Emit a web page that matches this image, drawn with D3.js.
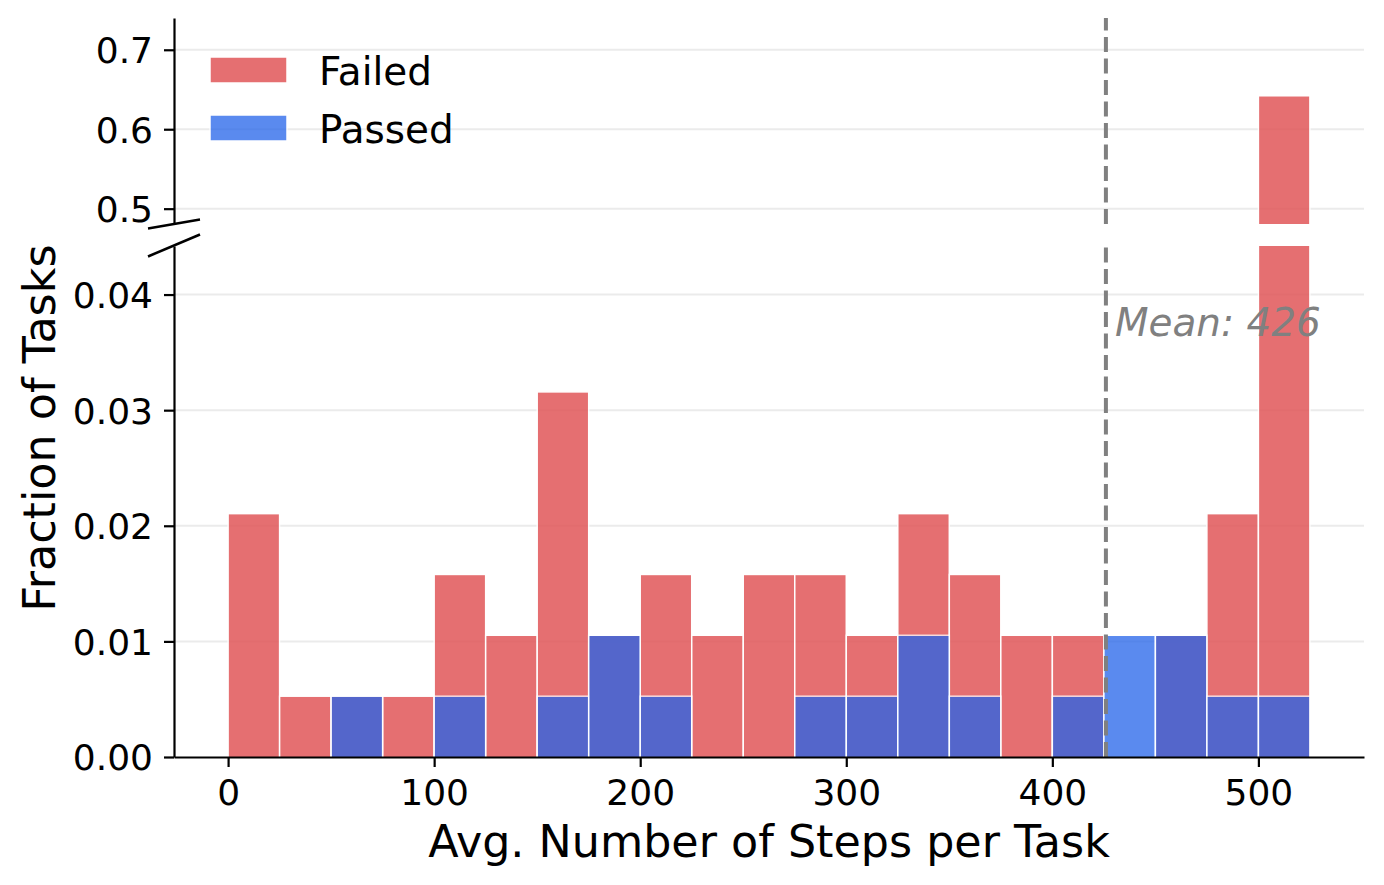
<!DOCTYPE html>
<html><head><meta charset="utf-8">
<script src="https://cdn.jsdelivr.net/npm/d3@7"></script>
<style>
body{margin:0;background:#fff;}
text{font-family:"DejaVu Sans",sans-serif;}
</style></head>
<body><svg id="c" width="1384" height="885"></svg>
<script>
// ---- data ----
const binStarts = [0,25,50,75,100,125,150,175,200,225,250,275,300,325,350,375,400,425,450,475,500];
const binWidth = 25;
const failed = [0.02105,0.00526,0.00526,0.00526,0.01579,0.01053,0.03158,0.01053,0.01579,0.01053,0.01579,0.01579,0.01053,0.02105,0.01579,0.01053,0.01053,0,0.01053,0.02105,0.6421];
const passed = [0,0,0.00526,0,0.00526,0,0.00526,0.01053,0.00526,0,0,0.00526,0.00526,0.01053,0.00526,0,0.00526,0.01053,0.01053,0.00526,0.00526];
const meanSteps = 426;
const xTicks = [0,100,200,300,400,500];
const yTicksLow = [0,0.01,0.02,0.03,0.04];
const yTicksHigh = [0.5,0.6,0.7];
const seriesNames = ["Failed","Passed"];

// ---- layout ----
const svg = d3.select("#c");
const L=174, R=1364;
const tickFont = 36;
const x = d3.scaleLinear().domain([-26.25,551.25]).range([L,R]);
const yB = d3.scaleLinear().domain([0,0.0442]).range([757,246]);
const yT = d3.scaleLinear().domain([0.4807,0.740]).range([224,18]);
const redFill = "#e15759", redOp = 0.85;
const blueFill = "rgb(36,100,234)", blueOp = 0.75;
const gridCol = "#ebebeb";

const defs = svg.append("defs");
function clip(id, y){
  const r = y.range();
  defs.append("clipPath").attr("id",id).append("rect")
    .attr("x",L).attr("y",r[1]).attr("width",R-L).attr("height",r[0]-r[1]);
}
clip("cb", yB); clip("ct", yT);

function panel(y, clipId, ticks, fmt){
  const g = svg.append("g");
  g.append("g").selectAll("line").data(ticks.filter(t=>t>0)).join("line")
    .attr("x1",L).attr("x2",R).attr("y1",d=>y(d)).attr("y2",d=>y(d))
    .attr("stroke",gridCol).attr("stroke-width",2);
  const bars = g.append("g").attr("clip-path",`url(#${clipId})`);
  const y0 = y.range()[0];
  bars.selectAll("rect.f").data(binStarts.map((s,i)=>({s,v:failed[i]})).filter(d=>d.v>0)).join("rect")
    .attr("x",d=>x(d.s)).attr("width",d=>x(d.s+binWidth)-x(d.s))
    .attr("y",d=>Math.min(y(d.v), y0+5)).attr("height",d=>Math.max(0,y0+5-y(d.v)))
    .attr("fill",redFill).attr("stroke","#fff").attr("stroke-width",1.5).attr("opacity",redOp);
  bars.selectAll("rect.p").data(binStarts.map((s,i)=>({s,v:passed[i]})).filter(d=>d.v>0)).join("rect")
    .attr("x",d=>x(d.s)).attr("width",d=>x(d.s+binWidth)-x(d.s))
    .attr("y",d=>Math.min(y(d.v), y0+5)).attr("height",d=>Math.max(0,y0+5-y(d.v)))
    .attr("fill",blueFill).attr("stroke","#fff").attr("stroke-width",1.5).attr("opacity",blueOp);
  g.append("line").attr("clip-path",`url(#${clipId})`)
    .attr("x1",x(meanSteps)).attr("x2",x(meanSteps)).attr("y1",y.range()[0]).attr("y2",y.range()[1])
    .attr("stroke","#808080").attr("stroke-width",4).attr("stroke-dasharray","15,6.5");
  const ax = g.append("g").attr("transform",`translate(${L},0)`)
    .call(d3.axisLeft(y).tickValues(ticks).tickFormat(fmt).tickSize(10).tickSizeOuter(0).tickPadding(11));
  ax.select(".domain").attr("stroke","#000").attr("stroke-width",2.2);
  ax.selectAll(".tick line").attr("stroke","#000").attr("stroke-width",2.2);
  ax.selectAll(".tick text").attr("font-size",tickFont).attr("fill","#000").attr("dy","0.36em");
  return g;
}
panel(yB,"cb",yTicksLow,d3.format(".2f"));
panel(yT,"ct",yTicksHigh,d3.format(".1f"));

const xa = svg.append("g").attr("transform","translate(0,757)")
  .call(d3.axisBottom(x).tickValues(xTicks).tickFormat(d3.format("d")).tickSize(10).tickSizeOuter(0).tickPadding(12));
xa.select(".domain").attr("stroke","#000").attr("stroke-width",2.2);
xa.selectAll(".tick line").attr("stroke","#000").attr("stroke-width",2.2);
xa.selectAll(".tick text").attr("font-size",tickFont).attr("fill","#000");

svg.append("line").attr("x1",148).attr("y1",228.5).attr("x2",200).attr("y2",219.5)
  .attr("stroke","#000").attr("stroke-width",2.5);
svg.append("line").attr("x1",148).attr("y1",256.5).attr("x2",200).attr("y2",234.5)
  .attr("stroke","#000").attr("stroke-width",2.5);

svg.append("text").attr("x",1115).attr("y",336).attr("font-size",38.9).attr("font-style","italic")
  .attr("fill","#808080").text(`Mean: ${meanSteps}`);

svg.append("text").attr("x",(L+R)/2).attr("y",857).attr("text-anchor","middle")
  .attr("font-size",44.4).attr("fill","#000").text("Avg. Number of Steps per Task");
svg.append("text").attr("transform","translate(55,428) rotate(-90)").attr("text-anchor","middle")
  .attr("font-size",44.4).attr("fill","#000").text("Fraction of Tasks");

const leg = svg.append("g");
const legFill = [redFill, blueFill], legOp=[redOp, blueOp];
seriesNames.forEach((n,i)=>{
  const yy = 57 + i*58;
  leg.append("rect").attr("x",210).attr("y",yy).attr("width",77).attr("height",26)
    .attr("fill",legFill[i]).attr("stroke","#fff").attr("stroke-width",1.5).attr("opacity",legOp[i]);
  leg.append("text").attr("x",319).attr("y",yy+28).attr("font-size",38.9).attr("fill","#000").text(n);
});
</script></body></html>
